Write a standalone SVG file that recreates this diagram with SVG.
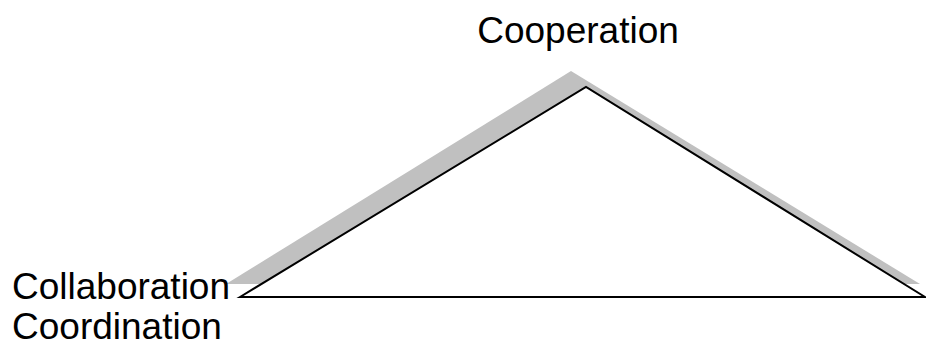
<svg xmlns="http://www.w3.org/2000/svg" width="926" height="344" viewBox="0 0 926 344">
<style>
.t{font-family:"Liberation Sans",Arial,sans-serif;font-size:37px;fill:#000}
</style>
<rect width="926" height="344" fill="#fff"/>
<g id="shadow"><polygon points="226,284 571,71 920,284" fill="#c0c0c0"/></g>
<g id="triangle"><polygon points="240,297 586,87 925,297" fill="#fff" stroke="#000" stroke-width="2"/></g>
<g id="labels">
<text class="t" x="578" y="43" text-anchor="middle">Cooperation</text>
<text class="t" x="12" y="299">Collaboration</text>
<text class="t" x="12" y="339">Coordination</text>
</g>
</svg>
